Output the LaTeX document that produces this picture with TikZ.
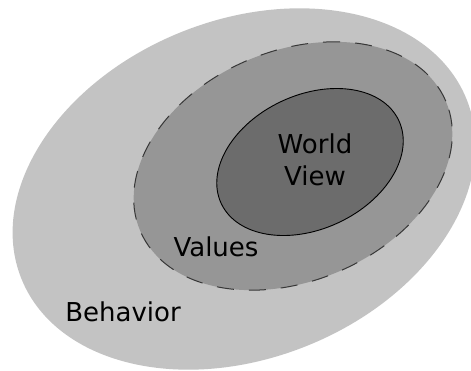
\documentclass[tikz,border=0pt]{standalone}
\usepackage{fontspec}
\setmainfont{DejaVu Sans}
\definecolor{behaviorfill}{RGB}{195,195,195}
\definecolor{valuesfill}{RGB}{150,150,150}
\definecolor{worldfill}{RGB}{108,108,108}
\definecolor{dashline}{RGB}{55,55,55}
\begin{document}
\begin{tikzpicture}[x=1pt,y=-1pt,label/.style={font=\fontsize{26}{32}\selectfont,align=center,inner sep=0pt}]
  \useasboundingbox (0,0) rectangle (471,370);
  \clip (0,0) rectangle (471,370);
  % nested ellipses
  \coordinate (bc) at (244,189);
  \coordinate (vc) at (293,166);
  \coordinate (wc) at (310,162);
  \fill[behaviorfill,rotate around={22:(bc)}] (bc) ellipse [x radius=240pt,y radius=169pt];
  \filldraw[fill=valuesfill,draw=dashline,dash pattern=on 17pt off 15pt,line width=1pt,rotate around={23:(vc)}]
    (vc) ellipse [x radius=166pt,y radius=115pt];
  \filldraw[fill=worldfill,draw=black,line width=0.9pt,rotate around={25:(wc)}]
    (wc) ellipse [x radius=98pt,y radius=67pt];
  % labels
  \node[label] (world) at (315,160) {World\\View};
  \node[label] (values) at (216,247) {Values};
  \node[label] (behavior) at (123,312) {Behavior};
\end{tikzpicture}
\end{document}
